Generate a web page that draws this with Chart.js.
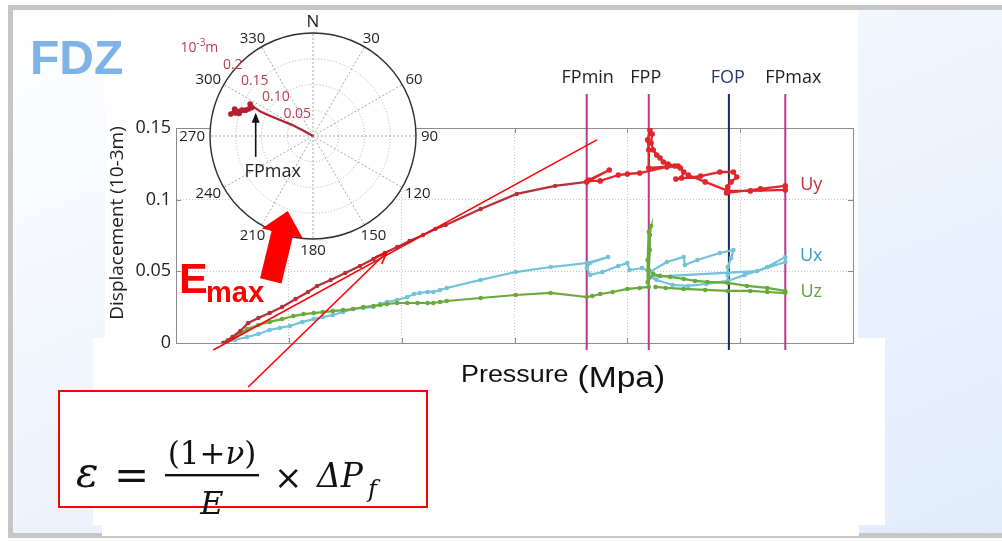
<!DOCTYPE html>
<html>
<head>
<meta charset="utf-8">
<title>FDZ displacement vs pressure</title>
<script src="https://cdn.jsdelivr.net/npm/chart.js@4/dist/chart.umd.min.js"></script>
<style>
  html, body { margin: 0; padding: 0; width: 1002px; height: 541px; overflow: hidden; background: #ffffff; }
  #slide { position: absolute; left: 8px; top: 5px; width: 1100px; height: 533px; box-sizing: border-box;
           border: 5px solid #c6c6c6; border-right: none;
           background: linear-gradient(158deg, #ffffff 0%, #f5f9fe 26%, #eaf2fd 60%, #e0ecfb 100%); }
  .panel { position: absolute; background: #ffffff; }
  canvas { position: absolute; }
</style>
</head>
<body>
<div id="slide"></div>
<div class="panel" style="left:105px; top:10px; width:753px; height:340px;"></div>
<div class="panel" style="left:93px; top:338px; width:792px; height:187px;"></div>
<div class="panel" style="left:102px; top:520px; width:757px; height:16px;"></div>
<canvas id="main" width="1002" height="541" style="left:0; top:0; width:1002px; height:541px;"></canvas>
<canvas id="polar" width="310" height="270" style="left:160px; top:0; width:310px; height:270px;"></canvas>
<canvas id="overlay" width="1002" height="541" style="left:0; top:0; width:1002px; height:541px;"></canvas>

<script>
// ---------- axes ----------
const pressureMin = 0, pressureMax = 60, pressureStep = 10;   // pressure axis (no printed tick labels)
const dispTicks = [0, 0.05, 0.1, 0.15];
const dispTickLabels = ['0', '0.05', '0.1', '0.15'];

// ---------- displacement series (pressure, displacement 10-3 m) ----------
const uyP = [4.2, 5.0, 5.7, 6.4, 7.3, 8.3, 9.4, 10.6, 11.7, 12.5, 13.7, 15.0, 16.3, 17.5, 18.5, 19.6, 20.7, 21.9, 23.0, 23.9,
             27.0, 30.2, 33.6, 36.4, 38.4, 36.6, 37.6, 39.2, 40.0, 41.1, 43.5, 44.5, 41.9, 41.9, 41.8, 42.0, 42.2, 42.1, 42.3, 42.6,
             42.9, 43.2, 43.6, 44.2, 44.7, 45.0, 44.8, 44.3, 46.5, 48.2, 49.4, 49.7, 49.2, 48.9, 48.8, 51.8, 54.0, 54.0, 50.9, 48.9,
             46.9, 45.4];
const uyD = [0, 0.0042, 0.0084, 0.0140, 0.0174, 0.0209, 0.0251, 0.0307, 0.0356, 0.0398, 0.0440, 0.0488, 0.0537, 0.0586, 0.0628, 0.0670, 0.0712, 0.0754, 0.0796, 0.0823,
             0.0935, 0.1040, 0.1096, 0.1124, 0.1207, 0.1137, 0.1131, 0.1172, 0.1179, 0.1186, 0.1228, 0.1235, 0.1221, 0.1347, 0.1417, 0.1486, 0.1458, 0.1396, 0.1347, 0.1312,
             0.1291, 0.1263, 0.1249, 0.1235, 0.1221, 0.1193, 0.1151, 0.1144, 0.1165, 0.1193, 0.1193, 0.1158, 0.1124, 0.1089, 0.1047, 0.1075, 0.1096, 0.1068, 0.1061, 0.1061,
             0.1124, 0.1172];

const uxP = [4.2, 5.2, 6.3, 7.3, 8.3, 9.2, 10.1, 11.2, 12.2, 13.0, 13.9, 14.8, 15.7, 16.6, 17.5, 18.1, 18.7, 19.6, 20.5, 21.1,
             21.6, 22.3, 22.8, 23.4, 24.0, 27.0, 30.1, 33.2, 36.4, 38.3, 36.7, 36.4, 36.7, 37.8, 39.2, 40.0, 40.2, 41.3, 42.0, 43.5,
             45.0, 45.1, 46.2, 48.2, 49.4, 49.2, 48.9, 48.9, 48.9, 47.0, 45.4, 44.0, 42.6, 42.0, 51.5, 52.4, 54.0, 54.0, 50.4, 48.9];
const uxD = [0, 0.0021, 0.0042, 0.0063, 0.0091, 0.0105, 0.0119, 0.0147, 0.0167, 0.0181, 0.0195, 0.0216, 0.0237, 0.0244, 0.0251, 0.0272, 0.0286, 0.0300, 0.0321, 0.0342,
             0.0349, 0.0356, 0.0356, 0.0370, 0.0384, 0.0440, 0.0495, 0.0530, 0.0558, 0.0600, 0.0558, 0.0523, 0.0475, 0.0495, 0.0537, 0.0558, 0.0509, 0.0523, 0.0495, 0.0565,
             0.0600, 0.0544, 0.0579, 0.0628, 0.0649, 0.0593, 0.0530, 0.0475, 0.0433, 0.0412, 0.0398, 0.0405, 0.0440, 0.0461, 0.0502, 0.0530, 0.0600, 0.0565, 0.0475, 0.0433];

const uzP = [4.2, 4.6, 5.3, 6.3, 7.3, 8.3, 9.4, 10.4, 11.3, 12.2, 13.0, 13.9, 14.8, 15.7, 16.6, 17.5, 18.1, 18.7, 19.6, 20.5,
             21.4, 22.3, 22.8, 23.4, 24.0, 27.0, 30.1, 33.2, 36.4, 36.9, 37.6, 38.7, 40.0, 41.1, 41.9, 41.9, 42.0, 42.0, 42.1, 41.9,
             41.8, 41.8, 42.3, 42.9, 43.8, 45.0, 46.0, 47.1, 48.9, 50.6, 52.4, 54.0, 54.0, 52.4, 50.9, 48.9, 46.9, 45.0, 43.4, 42.5];
const uzD = [0, 0.0021, 0.0049, 0.0098, 0.0126, 0.0147, 0.0167, 0.0188, 0.0202, 0.0209, 0.0216, 0.0223, 0.0230, 0.0237, 0.0251, 0.0258, 0.0265, 0.0272, 0.0279, 0.0279,
             0.0279, 0.0279, 0.0279, 0.0286, 0.0293, 0.0314, 0.0335, 0.0349, 0.0321, 0.0328, 0.0342, 0.0356, 0.0377, 0.0384, 0.0391, 0.0509, 0.0649, 0.0754, 0.0816, 0.0775,
             0.0579, 0.0426, 0.0482, 0.0468, 0.0461, 0.0447, 0.0433, 0.0426, 0.0419, 0.0398, 0.0384, 0.0363, 0.0349, 0.0356, 0.0363, 0.0363, 0.0370, 0.0377, 0.0384, 0.0391];

const seriesNames = ['Uy', 'Ux', 'Uz'];
const seriesLabelP = 56.3;
const seriesLabelD = [0.110, 0.0607, 0.0356];

// ---------- pressure events ----------
const eventNames = ['FPmin', 'FPP', 'FOP', 'FPmax'];
const eventP = [36.4, 41.9, 49.0, 54.0];
const eventSpan = [-0.0049, 0.1738];

// ---------- E max construction ----------
const tangentP = [3.3, 37.3];
const tangentD = [-0.0049, 0.1417];
const pointerP = [6.4, 18.7];          // from the formula box to the tangent point
const pointerD = [-0.0307, 0.0635];
const emaxArrowP = [8.4, 9.9];         // thick arrow: tail, tip
const emaxArrowD = [0.0433, 0.0921];

// ---------- polar inset (azimuth deg from N, radius 10-3 m) ----------
const compassLabels = ['N', '30', '60', '90', '120', '150', '180', '210', '240', '270', '300', '330'];
const ringValues = [0.05, 0.10, 0.15, 0.2];
const ringLabels = ['0.05', '0.10', '0.15', '0.2'];
const ringLabelAz = [324, 316, 313.5, 311.5];
const polarAz = [296, 299, 298, 296, 295, 295, 296, 297, 293, 291, 295, 290, 287, 286.5, 289, 285, 288, 290];
const polarR = [0, 0.02, 0.045, 0.07, 0.095, 0.113, 0.128, 0.137, 0.135, 0.14, 0.131, 0.146, 0.15, 0.157, 0.161, 0.165, 0.155, 0.147];
const fpmaxAz = 292, fpmaxR = 0.12;

// ---------- styling ----------
const SANS = "'Open Sans', 'Noto Sans', 'DejaVu Sans', sans-serif";
const ARIAL = "'Liberation Sans', Arial, sans-serif";
const SERIF = "'DejaVu Serif', 'Liberation Serif', serif";
const uyEarly = '#b5303a', uyLate = '#e3262c';
const uxColor = '#72c2d8', uzColor = '#69aa3a';
const fpColor = '#b7388e', fopColor = '#1d2966';
const labelColors = ['#c0303c', '#3b9ec3', '#5f9f3d'];
const eventLabelNudge = [1, -3, -1, 8];

const pts = (xs, ys) => xs.map((x, i) => ({ x, y: ys[i] }));
const uyLateFrom = uyP.findIndex(p => p >= eventP[0]);   // readings from FPmin onward

const overlayCtx = document.getElementById('overlay').getContext('2d');

const mainDecor = {
  id: 'mainDecor',
  beforeDatasetsDraw(chart) {
    const { ctx, chartArea: a, scales: { x, y } } = chart;
    ctx.save();
    ctx.strokeStyle = '#8c8c8c';
    ctx.lineWidth = 1;
    ctx.strokeRect(Math.round(a.left) + 0.5, Math.round(a.top) + 0.5, Math.round(a.right - a.left), Math.round(a.bottom - a.top));
    ctx.beginPath();
    x.ticks.forEach(t => {
      const px = Math.round(x.getPixelForValue(t.value)) + 0.5;
      ctx.moveTo(px, a.top); ctx.lineTo(px, a.top + 5);
      ctx.moveTo(px, a.bottom); ctx.lineTo(px, a.bottom - 5);
    });
    y.ticks.forEach(t => {
      const py = Math.round(y.getPixelForValue(t.value)) + 0.5;
      ctx.moveTo(a.left, py); ctx.lineTo(a.left + 5, py);
      ctx.moveTo(a.right, py); ctx.lineTo(a.right - 5, py);
    });
    ctx.stroke();
    ctx.restore();
  },
  afterDraw(chart) {
    const { ctx, scales: { x, y } } = chart;
    ctx.save();

    // event names above their vertical lines
    ctx.font = `18px ${SANS}`;
    ctx.textAlign = 'center';
    ctx.textBaseline = 'alphabetic';
    eventNames.forEach((n, i) => {
      ctx.fillStyle = n === 'FOP' ? '#2a3878' : '#1e1e1e';
      ctx.fillText(n, x.getPixelForValue(eventP[i]) + eventLabelNudge[i], y.getPixelForValue(eventSpan[1]) - 11);
    });

    // series names
    ctx.textBaseline = 'middle';
    seriesNames.forEach((n, i) => {
      ctx.fillStyle = labelColors[i];
      ctx.fillText(n, x.getPixelForValue(seriesLabelP), y.getPixelForValue(seriesLabelD[i]));
    });

    // thin pointer from the formula box to the tangent point
    const p0 = { x: x.getPixelForValue(pointerP[0]), y: y.getPixelForValue(pointerD[0]) };
    const p1 = { x: x.getPixelForValue(pointerP[1]), y: y.getPixelForValue(pointerD[1]) };
    const ang = Math.atan2(p1.y - p0.y, p1.x - p0.x);
    ctx.strokeStyle = '#ff0000';
    ctx.lineWidth = 1.6;
    ctx.beginPath();
    ctx.moveTo(p0.x, p0.y); ctx.lineTo(p1.x, p1.y);
    ctx.moveTo(p1.x - 13 * Math.cos(ang - 0.38), p1.y - 13 * Math.sin(ang - 0.38));
    ctx.lineTo(p1.x, p1.y);
    ctx.lineTo(p1.x - 13 * Math.cos(ang + 0.38), p1.y - 13 * Math.sin(ang + 0.38));
    ctx.stroke();

    // axis titles
    ctx.fillStyle = '#1e1e1e';
    ctx.save();
    ctx.translate(118, 223);
    ctx.rotate(-Math.PI / 2);
    ctx.textAlign = 'center';
    ctx.textBaseline = 'middle';
    ctx.font = `19px ${SANS}`;
    ctx.fillText('Displacement (10-3m)', 0, 0);
    ctx.restore();

    ctx.save();
    ctx.textAlign = 'left';
    ctx.textBaseline = 'alphabetic';
    ctx.translate(461, 0);
    ctx.scale(1.12, 1);
    ctx.fillStyle = '#111';
    ctx.font = `24px ${ARIAL}`;
    ctx.fillText('Pressure', 0, 382);
    ctx.font = `30px ${ARIAL}`;
    ctx.fillText('(Mpa)', 104, 387);
    ctx.restore();

    // section title
    ctx.fillStyle = '#7db3e7';
    ctx.font = `bold 48px ${ARIAL}`;
    ctx.textAlign = 'left';
    ctx.textBaseline = 'alphabetic';
    ctx.fillText('FDZ', 30, 74);

    // strain formula
    ctx.fillStyle = '#ffffff';
    ctx.fillRect(58, 390, 370, 118);
    ctx.strokeStyle = '#ff0000';
    ctx.lineWidth = 2;
    ctx.strokeRect(59, 391, 368, 116);
    ctx.fillStyle = '#111';
    ctx.font = `italic 42px ${SERIF}`;
    ctx.fillText('ε', 76, 487);
    ctx.font = `42px ${SERIF}`;
    ctx.fillText('=', 114, 490);
    const num = [['(', false], ['1', false], ['+', false], ['ν', true], [')', false]];
    const fontOf = it => (it ? 'italic ' : '') + `31px ${SERIF}`;
    let w = 0;
    num.forEach(([s, it]) => { ctx.font = fontOf(it); w += ctx.measureText(s).width; });
    let cx = 212 - w / 2;
    num.forEach(([s, it]) => { ctx.font = fontOf(it); ctx.fillText(s, cx, 464); cx += ctx.measureText(s).width; });
    ctx.fillRect(165, 474, 94, 2.4);
    ctx.textAlign = 'center';
    ctx.font = `italic 32px ${SERIF}`;
    ctx.fillText('E', 212, 514);
    ctx.textAlign = 'left';
    ctx.font = `34px ${SERIF}`;
    ctx.fillText('×', 274, 489);
    ctx.font = `italic 33px ${SERIF}`;
    ctx.fillText('ΔP', 317, 487);
    ctx.font = `italic 24px ${SERIF}`;
    ctx.fillText('f', 368, 497);
    ctx.restore();

    // thick E max arrow and its label, above the polar inset
    const o = overlayCtx;
    o.clearRect(0, 0, o.canvas.width, o.canvas.height);
    const b = { x: x.getPixelForValue(emaxArrowP[0]), y: y.getPixelForValue(emaxArrowD[0]) };
    const t = { x: x.getPixelForValue(emaxArrowP[1]), y: y.getPixelForValue(emaxArrowD[1]) };
    const len = Math.hypot(t.x - b.x, t.y - b.y);
    const ux = (t.x - b.x) / len, uy = (t.y - b.y) / len, nx = -uy, ny = ux;
    const head = 23, body = 11, wing = 21;
    const hx = t.x - ux * head, hy = t.y - uy * head;
    o.fillStyle = '#ff0000';
    o.beginPath();
    o.moveTo(b.x - nx * body, b.y - ny * body);
    o.lineTo(hx - nx * body, hy - ny * body);
    o.lineTo(hx - nx * wing, hy - ny * wing);
    o.lineTo(t.x, t.y);
    o.lineTo(hx + nx * wing, hy + ny * wing);
    o.lineTo(hx + nx * body, hy + ny * body);
    o.lineTo(b.x + nx * body, b.y + ny * body);
    o.closePath();
    o.fill();
    o.textAlign = 'left';
    o.textBaseline = 'alphabetic';
    o.font = `bold 43px ${ARIAL}`;
    o.fillText('E', 179, 293);
    o.font = `bold 29px ${ARIAL}`;
    o.fillText('max', 206, 302);
  }
};

const lineSet = (label, xs, ys, extra) => Object.assign({
  label, data: pts(xs, ys), showLine: true, pointBorderWidth: 0, tension: 0
}, extra);

new Chart(document.getElementById('main'), {
  type: 'scatter',
  data: {
    datasets: [
      lineSet('tangent', tangentP, tangentD, { borderColor: '#ff0000', borderWidth: 1.5, pointRadius: 0, clip: false }),
      lineSet('Uy', uyP, uyD, {
        borderColor: uyEarly, borderWidth: 2.3,
        segment: { borderColor: c => (c.p0DataIndex >= uyLateFrom ? uyLate : uyEarly) },
        pointRadius: c => (c.dataIndex >= uyLateFrom ? 2.8 : 2.2),
        pointBackgroundColor: c => (c.dataIndex >= uyLateFrom ? uyLate : uyEarly)
      }),
      lineSet('Uz', uzP, uzD, { borderColor: uzColor, borderWidth: 2.2, pointRadius: 2.3, pointBackgroundColor: uzColor }),
      lineSet('Ux', uxP, uxD, { borderColor: uxColor, borderWidth: 2.2, pointRadius: 2.3, pointBackgroundColor: uxColor }),
      ...eventNames.map((n, i) => lineSet(n, [eventP[i], eventP[i]], eventSpan, {
        borderColor: n === 'FOP' ? fopColor : fpColor, borderWidth: 2, pointRadius: 0, clip: false
      }))
    ]
  },
  options: {
    responsive: false,
    animation: false,
    events: [],
    layout: { padding: { left: 116, right: 149, top: 128, bottom: 198 } },
    plugins: { legend: { display: false }, tooltip: { enabled: false } },
    scales: {
      x: {
        type: 'linear', min: pressureMin, max: pressureMax,
        ticks: { display: false, stepSize: pressureStep },
        grid: { color: '#c4c4c4', lineWidth: 1, drawTicks: false },
        border: { display: true, color: '#8c8c8c', dash: [1, 2] },
        afterFit: s => { s.height = 0; }
      },
      y: {
        type: 'linear', min: dispTicks[0], max: dispTicks[dispTicks.length - 1],
        ticks: {
          stepSize: 0.05, padding: 5, color: '#1e1e1e', font: { family: SANS, size: 18 },
          callback: v => { const k = dispTicks.findIndex(t => Math.abs(t - v) < 1e-6); return k < 0 ? '' : dispTickLabels[k]; }
        },
        grid: { color: '#c4c4c4', lineWidth: 1, drawTicks: false },
        border: { display: true, color: '#8c8c8c', dash: [1, 2] },
        afterFit: s => { s.width = 60; }
      }
    }
  },
  plugins: [mainDecor]
});

// ---------- polar inset ----------
const polarDecor = {
  id: 'polarDecor',
  beforeDraw(chart) {
    const s = chart.scales.r, c = chart.ctx;
    c.save();
    c.fillStyle = '#ffffff';
    c.beginPath();
    c.arc(s.xCenter, s.yCenter, s.drawingArea, 0, Math.PI * 2);
    c.fill();
    c.restore();
  },
  afterDraw(chart) {
    const s = chart.scales.r, c = chart.ctx;
    const at = (az, r) => {
      const d = s.getDistanceFromCenterForValue(r);
      const a = az * Math.PI / 180 - Math.PI / 2;
      return { x: s.xCenter + Math.cos(a) * d, y: s.yCenter + Math.sin(a) * d };
    };
    const R = s.getDistanceFromCenterForValue(s.max);
    c.save();

    // rim
    c.strokeStyle = '#2e2e2e';
    c.lineWidth = 1.4;
    c.beginPath();
    c.arc(s.xCenter, s.yCenter, R, 0, Math.PI * 2);
    c.stroke();

    // compass labels
    c.fillStyle = '#1e1e1e';
    c.textAlign = 'center';
    c.textBaseline = 'middle';
    compassLabels.forEach((lab, i) => {
      c.font = (i === 0 ? '17px ' : '15px ') + SANS;
      const p = s.getPointPosition(i, R + 5);
      const w = c.measureText(lab).width;
      const h = i === 0 ? 14 : 12;
      c.fillText(lab, p.x + Math.cos(p.angle) * w / 2, p.y + Math.sin(p.angle) * h / 2 + 1);
    });

    // ring values
    c.fillStyle = '#b5414d';
    c.font = `14px ${SANS}`;
    ringLabels.forEach((lab, i) => {
      const p = at(ringLabelAz[i], ringValues[i] * 1.04);
      c.fillText(lab, p.x, p.y);
    });
    const u = at(308, 0.28);
    c.textAlign = 'left';
    c.font = `14px ${SANS}`;
    const w10 = c.measureText('10').width;
    c.font = `10px ${SANS}`;
    const wExp = c.measureText('-3').width;
    c.font = `14px ${SANS}`;
    const total = w10 + wExp + c.measureText('m').width;
    let ux = u.x - total / 2;
    c.fillText('10', ux, u.y + 1); ux += w10;
    c.font = `10px ${SANS}`;
    c.fillText('-3', ux, u.y - 4); ux += wExp;
    c.font = `14px ${SANS}`;
    c.fillText('m', ux, u.y + 1);

    // displacement trajectory
    c.strokeStyle = '#b21f2f';
    c.fillStyle = '#b21f2f';
    c.lineWidth = 2.2;
    c.lineJoin = 'round';
    c.beginPath();
    polarAz.forEach((az, i) => {
      const p = at(az, polarR[i]);
      if (i === 0) c.moveTo(p.x, p.y); else c.lineTo(p.x, p.y);
    });
    c.stroke();
    polarAz.forEach((az, i) => {
      if (i < 7) return;
      const p = at(az, polarR[i]);
      c.beginPath();
      c.arc(p.x, p.y, 2.8, 0, Math.PI * 2);
      c.fill();
    });

    // FPmax pointer
    const tip = at(fpmaxAz, fpmaxR);
    c.strokeStyle = '#111';
    c.fillStyle = '#111';
    c.lineWidth = 1.6;
    c.beginPath();
    c.moveTo(tip.x, tip.y + 8);
    c.lineTo(tip.x, tip.y + 44);
    c.stroke();
    c.beginPath();
    c.moveTo(tip.x, tip.y);
    c.lineTo(tip.x - 4, tip.y + 10);
    c.lineTo(tip.x + 4, tip.y + 10);
    c.closePath();
    c.fill();
    c.font = `18px ${SANS}`;
    c.textAlign = 'center';
    c.textBaseline = 'alphabetic';
    c.fillStyle = '#1e1e1e';
    c.fillText('FPmax', tip.x + 17, tip.y + 64);
    c.restore();
  }
};

new Chart(document.getElementById('polar'), {
  type: 'radar',
  data: { labels: compassLabels, datasets: [] },
  options: {
    responsive: false,
    animation: false,
    events: [],
    layout: { padding: { left: 50, right: 54, top: 33, bottom: 31 } },
    plugins: { legend: { display: false }, tooltip: { enabled: false } },
    scales: {
      r: {
        min: 0, max: ringValues[ringValues.length - 1],
        ticks: { display: false, stepSize: 0.05 },
        pointLabels: { display: false },
        grid: { circular: true, color: '#b0b0b0', lineWidth: 1, borderDash: [1, 2] },
        border: { dash: [1, 2] },
        angleLines: { display: true, color: '#a6a6a6', lineWidth: 1, borderDash: [2, 2] }
      }
    }
  },
  plugins: [polarDecor]
});
</script>
</body>
</html>
